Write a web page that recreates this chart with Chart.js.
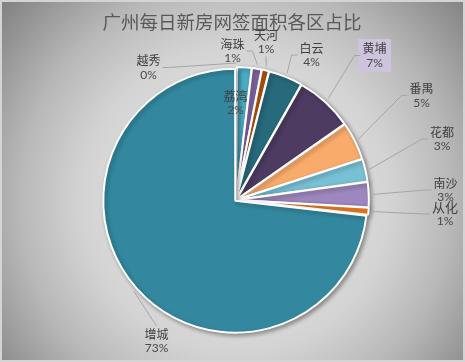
<!DOCTYPE html>
<html><head><meta charset="utf-8">
<script src="https://cdn.jsdelivr.net/npm/chart.js@4.4.1/dist/chart.umd.min.js"></script>
<style>html,body{margin:0;padding:0;background:#fff}#wrap{width:465px;height:362px}</style>
</head><body><div id="wrap"><canvas id="c" width="465" height="362"></canvas></div>
<script>
const titleText = '广州每日新房网签面积各区占比';
const categories = ['越秀','荔湾','海珠','天河','白云','黄埔','番禺','花都','南沙','从化','增城'];
const areaShare = [0.1, 1.8, 1.2, 0.9, 4.2, 7.1, 4.7, 2.8, 3.1, 0.9, 73.2];

// styles / layout (not data)
const sliceColors = ['#F79646','#4BACC6','#8064A2','#B65708','#276A7C','#4D3B62','#F9AB6B','#78C0D4','#9D87BE','#F68121','#33889F'];
const labelPos = [[-87.5,-139.5],[-0.5,-104],[-3.5,-156],[30,-165],[75.5,-152],[138.5,-151.5],[185.5,-111.5],[206,-68],[209.5,-17],[209,7],[-79.5,134]];
const leaderSide = ['right','none','right','bottom','left','left','left','left','left','left','top'];
const labelBox = [null,null,null,null,null,'#CDC3DC',null,null,null,null,null];
const nameSize = [12,12,12,12,12,12,12,12,12,13,12];

const bgPlugin = {
  id: 'bg',
  beforeDraw(chart) {
    const ctx = chart.ctx, W = chart.width, H = chart.height;
    ctx.save();
    const cx = 236, cy = 200;
    const R = Math.hypot(Math.max(cx, W - cx), Math.max(cy, H - cy));
    const g = ctx.createRadialGradient(cx, cy, 0, cx, cy, R);
    g.addColorStop(0, '#efefef');
    g.addColorStop(0.5, '#d3d3d3');
    g.addColorStop(0.7, '#b8b8b8');
    g.addColorStop(1, '#7f7f7f');
    ctx.fillStyle = g;
    ctx.fillRect(0, 0, W, H);
    ctx.strokeStyle = '#d4d4d4';
    ctx.lineWidth = 2;
    ctx.strokeRect(1, 1, W - 2, H - 2);
    ctx.restore();
  }
};

const shadowPlugin = {
  id: 'shadow',
  beforeDatasetsDraw(chart) {
    const ctx = chart.ctx;
    ctx.save();
    ctx.shadowColor = 'rgba(0,0,0,0.35)';
    ctx.shadowBlur = 4;
    ctx.shadowOffsetX = 2;
    ctx.shadowOffsetY = 2;
  },
  afterDatasetsDraw(chart) {
    chart.ctx.restore();
  }
};

const labelPlugin = {
  id: 'labels',
  afterDraw(chart) {
    const ctx = chart.ctx;
    ctx.save();
    // title
    ctx.font = '18.5px "Noto Sans CJK SC"';
    ctx.fillStyle = '#595959';
    ctx.textAlign = 'center';
    ctx.textBaseline = 'middle';
    ctx.fillText(titleText, 232, 22);

    const meta = chart.getDatasetMeta(0);
    const total = areaShare.reduce((a, b) => a + b, 0);
    const off = chart.data.datasets[0].offset;
    meta.data.forEach((arc, i) => {
      const p = arc.getProps(['x','y','startAngle','endAngle','outerRadius'], true);
      const mid = (p.startAngle + p.endAngle) / 2;
      const lx = p.x + labelPos[i][0], ly = p.y + labelPos[i][1];
      const gap = 14.5;
      const name = categories[i];
      const pct = Math.round(areaShare[i] / total * 100) + '%';
      const nameFont = nameSize[i] + 'px "Noto Sans CJK SC"';
      const pctFont = '12px Lato, "Noto Sans CJK SC"';
      ctx.font = nameFont; const w1 = ctx.measureText(name).width;
      ctx.font = pctFont; const w2 = ctx.measureText(pct).width;
      const w = Math.max(w1, w2);
      if (labelBox[i]) {
        ctx.fillStyle = labelBox[i];
        ctx.fillRect(lx - w / 2 - 4.5, ly - 9.5, w + 9, 33);
      }
      // leader line
      const side = leaderSide[i];
      if (side !== 'none') {
        const ar = p.outerRadius + off + 2;
        const ax = p.x + Math.cos(mid) * ar, ay = p.y + Math.sin(mid) * ar;
        ctx.strokeStyle = '#a6a6a6';
        ctx.lineWidth = 1;
        ctx.beginPath();
        if (side === 'left' || side === 'right') {
          const sgn = side === 'left' ? -1 : 1;
          const sx = lx + sgn * (w / 2 + 2), sy = ly + 7;
          ctx.moveTo(sx, sy);
          ctx.lineTo(sx + sgn * 6, sy);
          ctx.lineTo(ax, ay);
        } else if (side === 'bottom') {
          ctx.moveTo(lx, ly + gap + 7);
          ctx.lineTo(ax, ay);
        } else {
          ctx.moveTo(lx, ly - 8);
          ctx.lineTo(ax, ay);
        }
        ctx.stroke();
      }
      ctx.fillStyle = '#404040';
      ctx.font = nameFont;
      ctx.fillText(name, lx, ly);
      ctx.font = pctFont;
      ctx.fillStyle = '#4a4a4a';
      ctx.fillText(pct, lx, ly + gap);
    });
    ctx.restore();
  }
};

new Chart(document.getElementById('c'), {
  type: 'pie',
  data: {
    labels: categories,
    datasets: [{
      data: areaShare,
      backgroundColor: sliceColors,
      borderColor: '#ffffff',
      borderWidth: 2,
      offset: 4,
      radius: 131
    }]
  },
  options: {
    responsive: false,
    animation: false,
    devicePixelRatio: 1,
    layout: { padding: { left: 60, right: 53, top: 60, bottom: 22 } },
    plugins: {
      legend: { display: false },
      tooltip: { enabled: false },
      title: { display: false }
    }
  },
  plugins: [bgPlugin, shadowPlugin, labelPlugin]
});
</script>
</body></html>
